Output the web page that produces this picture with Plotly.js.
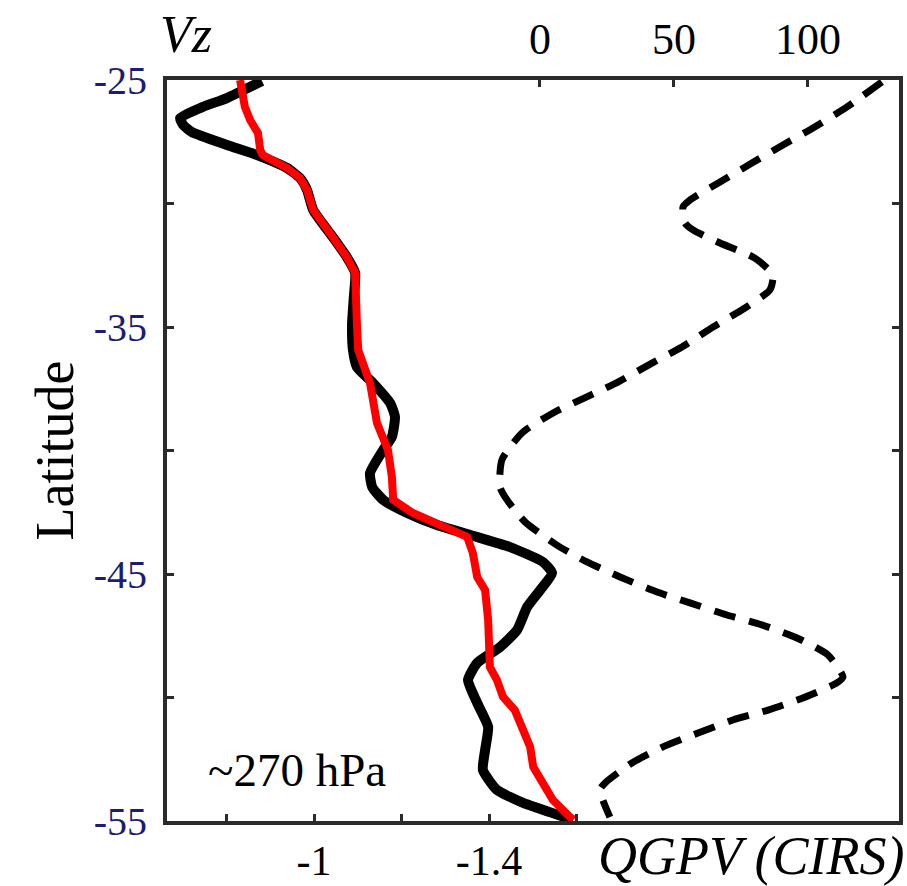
<!DOCTYPE html>
<html>
<head>
<meta charset="utf-8">
<script src="https://cdn.plot.ly/plotly-3.0.1.min.js"></script>
<style>
  html, body { margin: 0; padding: 0; background: #ffffff; }
  #chart { width: 907px; height: 886px; }
</style>
</head>
<body>
<div id="chart"></div>
<script>
// ---- Data ----
// QGPV (CIRS), black solid line (bottom axis)
const cirsLat = [-25.04,-25.73,-26.09,-26.54,-26.82,-27.11,-27.63,-28.04,-28.56,-28.97,-29.45,-30.26,-31.36,-32.17,-32.81,-33.79,-34.84,-35.93,-36.62,-37.27,-38.08,-38.64,-39.45,-39.98,-40.91,-41.48,-42.0,-42.53,-43.02,-43.42,-43.91,-44.51,-44.96,-45.65,-46.34,-47.27,-47.96,-48.6,-49.29,-50.22,-51.19,-52.13,-52.94,-53.74,-54.27,-54.64,-54.96];
const cirsQgpv = [-0.881,-0.801,-0.746,-0.694,-0.701,-0.721,-0.801,-0.870,-0.938,-0.968,-0.984,-0.998,-1.043,-1.075,-1.094,-1.091,-1.087,-1.089,-1.098,-1.135,-1.174,-1.185,-1.178,-1.158,-1.128,-1.133,-1.158,-1.213,-1.281,-1.357,-1.448,-1.523,-1.544,-1.517,-1.487,-1.464,-1.425,-1.373,-1.352,-1.373,-1.398,-1.391,-1.386,-1.418,-1.478,-1.539,-1.592];

// QGPV, red solid line (bottom axis)
const redLat = [-25.0,-26.09,-26.62,-27.15,-27.83,-28.04,-28.56,-28.97,-29.45,-30.26,-31.36,-32.17,-32.81,-33.79,-34.84,-35.93,-36.46,-37.27,-38.89,-39.98,-41.07,-42.0,-42.53,-42.94,-43.5,-44.15,-45.12,-45.65,-46.86,-48.77,-49.29,-49.98,-50.51,-51.32,-52.0,-52.81,-53.46,-54.15,-54.96];
const redQgpv = [-0.831,-0.842,-0.854,-0.872,-0.877,-0.883,-0.938,-0.968,-0.984,-0.998,-1.043,-1.075,-1.094,-1.098,-1.098,-1.101,-1.110,-1.128,-1.144,-1.169,-1.178,-1.181,-1.226,-1.281,-1.350,-1.363,-1.373,-1.391,-1.398,-1.402,-1.418,-1.432,-1.459,-1.478,-1.494,-1.501,-1.523,-1.546,-1.592];

// Vz, black dashed line (top axis)
const vzLat = [-25.08,-26.09,-26.94,-27.63,-28.36,-29.13,-29.86,-30.14,-30.79,-31.07,-31.6,-32.21,-32.89,-33.5,-34.23,-35.0,-35.81,-36.46,-37.23,-37.83,-38.48,-39.29,-40.38,-41.48,-42.0,-42.89,-43.83,-44.51,-45.12,-45.73,-46.17,-46.66,-47.06,-47.59,-48.28,-49.17,-49.41,-50.02,-50.51,-50.91,-51.44,-52.0,-52.65,-53.46,-53.74,-54.84];
const vzVal = [127.6,114.6,101.9,90.7,79.1,67.2,56.0,53.4,54.1,57.1,67.2,80.2,86.9,85.8,76.5,64.6,53.0,41.8,29.1,17.5,4.9,-6.7,-14.2,-14.9,-12.3,-5.6,6.3,17.5,29.9,43.7,56.0,69.8,82.8,95.9,107.5,113.1,110.8,98.1,85.1,72.0,59.0,45.9,34.3,24.3,22.4,26.1];

// Tick labels
const latTickVals = [-25,-30,-35,-40,-45,-50,-55];
const latTickText = ['-25','','-35','','-45','','-55'];
const qgpvTickVals = [-0.8,-1.0,-1.2,-1.4,-1.6];
const qgpvTickText = ['','-1','','-1.4',''];
const vzTickVals = [0,50,100];
const vzTickText = ['0','50','100'];

// ---- Plot ----
const serif = 'Liberation Serif, Times New Roman, serif';
const frame = '#2b2b2b';

const traces = [
  { x: vzVal, y: vzLat, xaxis: 'x2', yaxis: 'y', type: 'scatter', mode: 'lines',
    line: { color: '#000000', width: 7, dash: '22px,14px', shape: 'spline', smoothing: 0.6 },
    name: 'Vz', showlegend: false },
  { x: cirsQgpv, y: cirsLat, xaxis: 'x', yaxis: 'y', type: 'scatter', mode: 'lines',
    line: { color: '#000000', width: 10, shape: 'spline', smoothing: 0.5 },
    name: 'QGPV (CIRS)', showlegend: false },
  { x: redQgpv, y: redLat, xaxis: 'x', yaxis: 'y', type: 'scatter', mode: 'lines',
    line: { color: '#ff0000', width: 8 },
    name: 'QGPV', showlegend: false }
];

const W = 907, H = 886;
const L = 167, R = 8, T = 80, B = 65;
const pw = W - L - R, ph = H - T - B;
function px(x) { return (x - L) / pw; }
function py(y) { return (H - B - y) / ph; }

const layout = {
  width: W, height: H,
  margin: { l: L, r: R, t: T, b: B, pad: 0 },
  paper_bgcolor: '#ffffff', plot_bgcolor: '#ffffff',
  showlegend: false,
  font: { family: serif, color: '#000000', size: 40 },
  xaxis: {
    range: [-0.664, -2.337],
    tickvals: qgpvTickVals, ticktext: qgpvTickText,
    ticks: 'inside', ticklen: 7, tickwidth: 3, tickcolor: frame,
    showline: true, linewidth: 4, linecolor: frame, mirror: false,
    showgrid: false, zeroline: false,
    tickfont: { family: serif, size: 42, color: '#000000' },
    ticklabelstandoff: 0
  },
  xaxis2: {
    overlaying: 'x', side: 'top', anchor: 'y',
    range: [-139.2, 134.0],
    tickvals: vzTickVals, ticktext: vzTickText,
    ticks: 'inside', ticklen: 7, tickwidth: 3, tickcolor: frame,
    showline: true, linewidth: 4, linecolor: frame,
    showgrid: false, zeroline: false,
    tickfont: { family: serif, size: 44, color: '#000000' },
    ticklabelstandoff: 4
  },
  yaxis: {
    range: [-55, -25],
    tickvals: latTickVals, ticktext: latTickText,
    ticks: 'inside', ticklen: 7, tickwidth: 3, tickcolor: frame,
    showline: true, linewidth: 4, linecolor: frame, mirror: 'ticks',
    showgrid: false, zeroline: false,
    tickfont: { family: serif, size: 40, color: '#1c1c74' },
    ticklabelstandoff: 8,
    title: { text: 'Latitude', font: { family: serif, size: 54, color: '#000000' }, standoff: 4 }
  },
  annotations: [
    { text: 'Vz', xref: 'paper', yref: 'paper', x: px(158), y: py(34),
      xanchor: 'left', yanchor: 'middle', showarrow: false,
      font: { family: serif, size: 52, color: '#000000', style: 'italic' } },
    { text: 'QGPV (CIRS)', xref: 'paper', yref: 'paper', x: px(906), y: py(856),
      xanchor: 'right', yanchor: 'middle', showarrow: false,
      font: { family: serif, size: 54, color: '#000000', style: 'italic' } },
    { text: '~270 hPa', xref: 'paper', yref: 'paper', x: px(206), y: py(770),
      xanchor: 'left', yanchor: 'middle', showarrow: false,
      font: { family: serif, size: 47, color: '#000000' } }
  ]
};

Plotly.newPlot('chart', traces, layout, { staticPlot: true, displayModeBar: false });
</script>
</body>
</html>
